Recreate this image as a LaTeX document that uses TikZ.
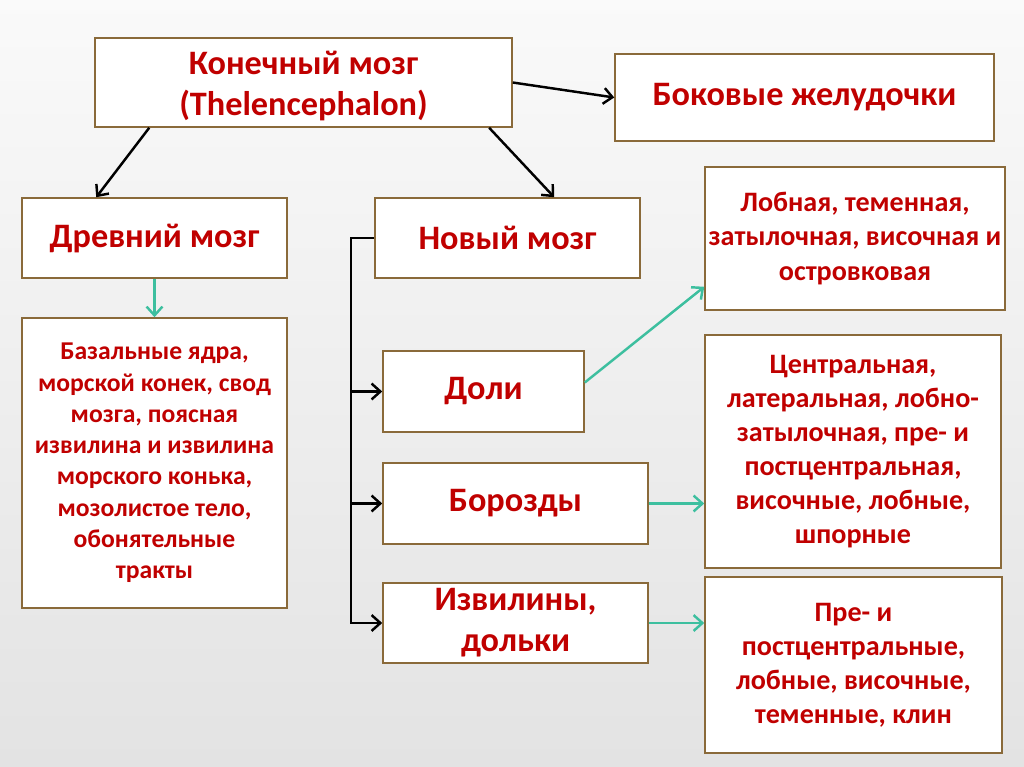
\documentclass[tikz,border=0pt]{standalone}
\usepackage{fontspec}
\setmainfont{Carlito}
\usetikzlibrary{arrows.meta}
\definecolor{boxred}{HTML}{C00000}
\definecolor{boxedge}{HTML}{8A6A3A}
\definecolor{linkteal}{HTML}{3DBF9F}

\begin{document}
\begin{tikzpicture}[
    x=0.02cm, y=-0.02cm,
    box/.style={draw=boxedge, line width=0.9pt, fill=white, text=boxred,
                font=\bfseries, align=center, inner sep=2pt},
    big/.style={box, font=\fontsize{19.5}{23.5}\selectfont\bfseries},
    small/.style={box, font=\fontsize{16}{19.4}\selectfont\bfseries},
    blk/.style={line width=1.4pt, -{Straight Barb[length=5pt,width=9pt]}},
    tealln/.style={linkteal, line width=1.4pt, -{Straight Barb[length=5pt,width=9pt]}},
  ]
  % background
  \shade[top color=gray!4, bottom color=gray!22] (0,0) rectangle (1024,767);
  \useasboundingbox (0,0) rectangle (1024,767);

  % top row
  \node[big, minimum width=8.34cm, minimum height=1.78cm] (kon) at (303.5,82.5)
    {\rule{0pt}{0.9em}Конечный мозг\\(Thelencephalon)};
  \node[big, minimum width=7.58cm, minimum height=1.74cm] (bok) at (804.5,97.5)
    {Боковые желудочки};

  % second row
  \node[big, minimum width=5.3cm, minimum height=1.6cm] (drev) at (154.5,238)
    {Древний мозг};
  \node[big, minimum width=5.3cm, minimum height=1.6cm] (novyj) at (507.5,238)
    {Новый мозг};

  % old brain contents
  \node[small, font=\fontsize{14.6}{17.8}\selectfont\bfseries,
        minimum width=5.3cm, minimum height=5.8cm] (drevsost) at (154.5,463)
    {Базальные ядра,\\морской конек, свод\\мозга, поясная\\извилина и извилина\\морского конька,\\мозолистое тело,\\обонятельные\\тракты};

  % new brain parts
  \node[big, minimum width=4.02cm, minimum height=1.62cm] (doli) at (483.5,391.5)
    {Доли};
  \node[big, minimum width=5.3cm, minimum height=1.62cm] (boroz) at (515.5,503.5)
    {Борозды};
  \node[big, minimum width=5.3cm, minimum height=1.6cm] (izv) at (515.5,623)
    {Извилины,\\дольки};

  % right column
  \node[small, minimum width=6cm, minimum height=2.86cm] (lob) at (855,238.5)
    {Лобная, теменная,\\затылочная, височная и\\островковая};
  \node[small, minimum width=5.92cm, minimum height=4.66cm] (centr) at (853,451.5)
    {Центральная,\\латеральная, лобно-\\затылочная, пре- и\\постцентральная,\\височные, лобные,\\шпорные};
  \node[small, minimum width=5.94cm, minimum height=3.52cm] (pre) at (853.5,665)
    {Пре- и\\постцентральные,\\лобные, височные,\\теменные, клин};

  % black links
  \draw[blk] (kon.east) -- (bok.west);
  \draw[blk] ([xshift=1.1cm]kon.south west) -- ([xshift=1.5cm]drev.north west);
  \draw[blk] ([xshift=7.9cm]kon.south west) -- ([xshift=3.6cm]novyj.north west);

  % bracket from new brain
  \coordinate (bus) at (351,238);
  \draw[blk] (novyj.west) -- (bus) |- (izv.west);
  \draw[blk] (bus |- doli.west) -- (doli.west);
  \draw[blk] (bus |- boroz.west) -- (boroz.west);

  % teal links
  \draw[tealln] (drev.south) -- (drevsost.north);
  \draw[tealln] ([yshift=0.18cm]doli.east) -- ([yshift=0.48cm]lob.south west);
  \draw[tealln] (boroz.east) -- (boroz.east -| centr.west);
  \draw[tealln] (izv.east) -- (izv.east -| pre.west);
\end{tikzpicture}
\end{document}
